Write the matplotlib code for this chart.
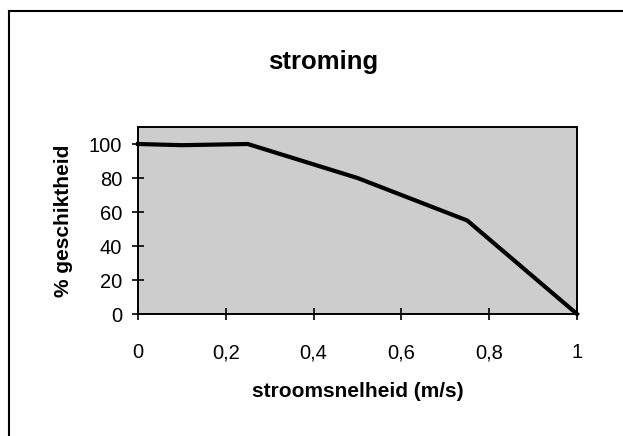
import matplotlib
matplotlib.use("Agg")
import matplotlib.pyplot as plt
from matplotlib.lines import Line2D

plt.rcParams["font.family"] = ["Liberation Sans", "DejaVu Sans"]

snelheid = [0, 0.1, 0.25, 0.5, 0.75, 1.0]
geschiktheid = [100, 99.3, 100, 80, 55, 0]
x_ticks = [0, 0.2, 0.4, 0.6, 0.8, 1.0]
x_labels = ["0", "0,2", "0,4", "0,6", "0,8", "1"]
y_ticks = [0, 20, 40, 60, 80, 100]

fig = plt.figure(figsize=(6.23, 4.36), dpi=100)
ax = fig.add_axes([138 / 623, 1 - 314 / 436, 439 / 623, 187 / 436])
ax.set_facecolor("#cdcdcd")

ax.plot(snelheid, geschiktheid, color="black", linewidth=3, solid_joinstyle="miter", clip_on=False)

ax.set_xlim(0, 1)
ax.set_ylim(0, 110)
ax.set_xticks(x_ticks)
ax.set_xticklabels(x_labels)
ax.set_yticks(y_ticks)
ax.tick_params(direction="inout", length=9, width=1.2, labelsize=14.5, pad=7)
ax.tick_params(axis="x", pad=16.5)
for s in ax.spines.values():
    s.set_linewidth(1.4)

ax.set_xlabel("stroomsnelheid (m/s)", fontsize=15, fontweight="bold", labelpad=14)
ax.set_ylabel("% geschiktheid", fontsize=15, fontweight="bold", labelpad=11)
fig.text(323.5 / 623, 1 - 62 / 436, "stroming", fontsize=18.5, fontweight="bold",
         ha="center", va="center")

# outer chart frame (top and left edges visible)
fig.add_artist(Line2D([9 / 623, 1.0], [1 - 11 / 436, 1 - 11 / 436], color="black", linewidth=1.5))
fig.add_artist(Line2D([9 / 623, 9 / 623], [0, 1 - 11 / 436], color="black", linewidth=1.5))

fig.savefig("out.png", dpi=100)
